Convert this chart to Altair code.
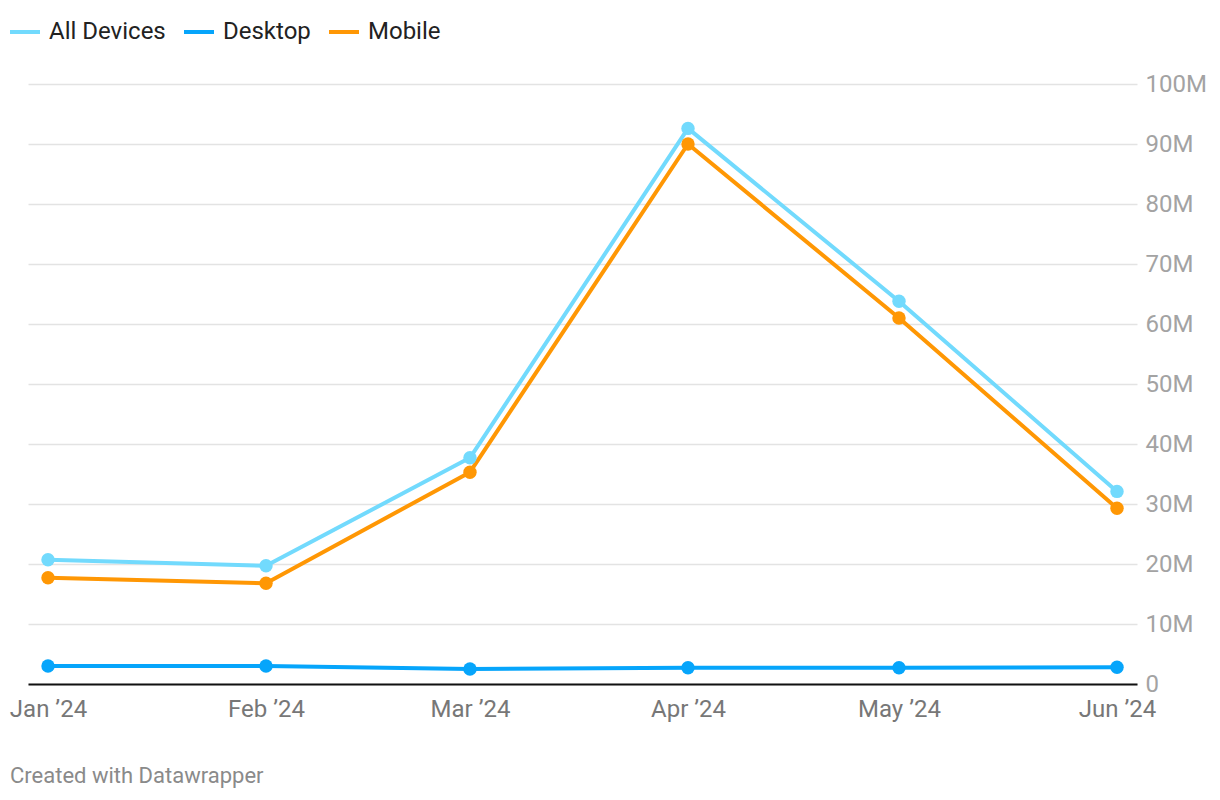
import altair as alt
import pandas as pd

months = ["2024-01-01", "2024-02-01", "2024-03-01", "2024-04-01", "2024-05-01", "2024-06-01"]
all_devices = [20.7, 19.7, 37.7, 92.6, 63.8, 32.1]
desktop = [3.0, 3.0, 2.5, 2.7, 2.7, 2.8]
mobile = [17.7, 16.8, 35.3, 90.0, 61.0, 29.3]
series_names = ["All Devices", "Desktop", "Mobile"]
series_colors = ["#72dafd", "#06a5fb", "#ff9704"]
y_ticks = [0, 10, 20, 30, 40, 50, 60, 70, 80, 90, 100]
footer = "Created with Datawrapper"

rows = []
for name, vals in zip(series_names, [all_devices, desktop, mobile]):
    for m, v in zip(months, vals):
        rows.append({"date": m, "series": name, "value": v})
df = pd.DataFrame(rows)

FONT = "Roboto"

x_enc = alt.X(
    "date:T",
    scale=alt.Scale(type="utc", padding=20, nice=False),
    axis=alt.Axis(
        title=None,
        labelExpr="utcFormat(datum.value, '%b \u2019%y')",
        values=[alt.DateTime(year=2024, month=i, date=1, utc=True) for i in range(1, 7)],
        grid=False,
        ticks=False,
        domain=True,
        domainColor="#111111",
        domainWidth=2,
        labelFont=FONT,
        labelFontSize=24,
        labelColor="#777777",
        labelPadding=13,
        labelFlush=False,
        labelBaseline="top",
    ),
)
y_enc = alt.Y(
    "value:Q",
    scale=alt.Scale(domain=[0, 100], nice=False),
    axis=alt.Axis(
        title=None,
        orient="right",
        values=y_ticks,
        labelExpr="datum.value == 0 ? '0' : datum.value + 'M'",
        grid=True,
        gridColor="#e3e3e3",
        gridWidth=1.5,
        ticks=False,
        domain=False,
        labelFont=FONT,
        labelFontSize=24,
        labelColor="#a3a3a3",
        labelPadding=8,
        labelAlign="left",
    ),
)
color_scale = alt.Scale(domain=series_names, range=series_colors)

base = alt.Chart(df)
lines = base.mark_line(strokeWidth=4, strokeCap="round", strokeJoin="round").encode(
    x=x_enc,
    y=y_enc,
    color=alt.Color(
        "series:N",
        scale=color_scale,
        legend=alt.Legend(
            title=None,
            orient="none",
            direction="horizontal",
            legendX=-20,
            legendY=-69,
            symbolType="stroke",
            symbolSize=900,
            symbolStrokeWidth=4,
            labelFont=FONT,
            labelFontSize=24,
            labelColor="#222222",
            labelOffset=7,
            columnPadding=10,
        ),
    ),
)
points = base.mark_point(filled=True, opacity=1, size=180).encode(
    x=alt.X("date:T"),
    y=alt.Y("value:Q"),
    color=alt.Color("series:N", scale=color_scale, legend=None),
)
foot = alt.Chart(pd.DataFrame({"t": [footer]})).mark_text(
    align="left", baseline="middle", font=FONT, fontSize=22, color="#8a8a8a"
).encode(text="t:N", x=alt.value(-18), y=alt.value(692))

chart = (
    alt.layer(lines, points, foot)
    .properties(
        width=1109,
        height=600,
        autosize=alt.AutoSizeParams(type="none"),
        padding={"left": 28, "top": 84, "right": 83, "bottom": 116},
    )
    .configure_view(stroke=None)
)

chart.save("out.html", embed_options={"renderer": "svg", "actions": False})
